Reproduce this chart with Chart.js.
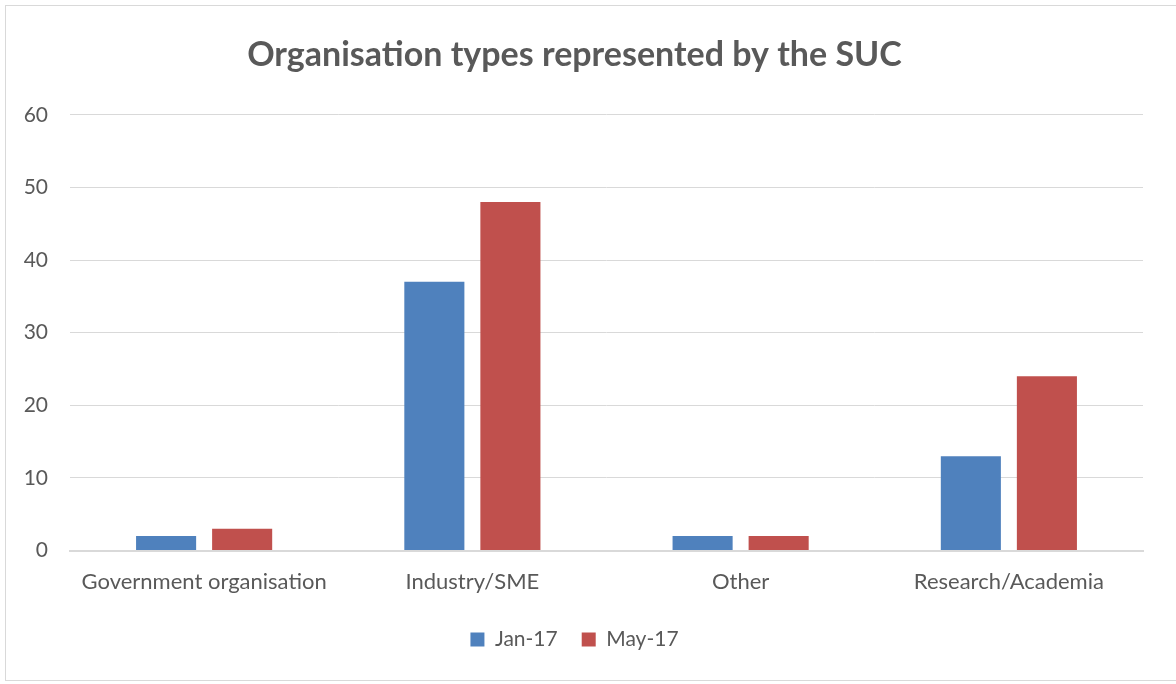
<!DOCTYPE html>
<html lang="en">
<head>
<meta charset="UTF-8">
<title>Organisation types</title>
<script src="https://cdn.jsdelivr.net/npm/chart.js@4.4.0/dist/chart.umd.min.js"></script>
<style>
  body { margin: 0; background: #fff; }
  #box {
    position: absolute; left: 5px; top: 5px;
    width: 1175px; height: 676px;
    border: 1px solid #d9d9d9; box-sizing: border-box;
  }
  #myChart { display: block; }
</style>
</head>
<body>
<div id="box"><canvas id="myChart" width="1173" height="674"></canvas></div>
<script>
const categories = ["Government organisation", "Industry/SME", "Other", "Research/Academia"];
const jan17 = [2, 37, 2, 13];
const may17 = [3, 48, 2, 24];
const seriesNames = ["Jan-17", "May-17"];

const grey = "#595959";
const fontFam = "Lato, 'Open Sans', sans-serif";

new Chart("myChart", {
  type: "bar",
  data: {
    labels: categories,
    datasets: [{
      label: seriesNames[0],
      data: jan17,
      backgroundColor: "#4F81BD",
      barPercentage: 0.79,
      categoryPercentage: 0.567
    }, {
      label: seriesNames[1],
      data: may17,
      backgroundColor: "#C0504D",
      barPercentage: 0.79,
      categoryPercentage: 0.567
    }]
  },
  options: {
    responsive: false,
    animation: false,
    layout: { padding: { left: 0, right: 36, top: 0, bottom: 20 } },
    plugins: {
      title: {
        display: true,
        text: "Organisation types represented by the SUC",
        color: grey,
        font: { family: fontFam, size: 34, weight: "bold" },
        padding: { top: 29, bottom: 39 }
      },
      legend: {
        position: "bottom",
        labels: {
          color: grey,
          font: { family: fontFam, size: 21 },
          boxWidth: 14, boxHeight: 14,
          padding: 24
        }
      },
      tooltip: { enabled: false }
    },
    scales: {
      x: {
        grid: { display: false },
        border: { color: "#d9d9d9", width: 2 },
        ticks: { color: grey, font: { family: fontFam, size: 22 }, padding: 10 }
      },
      y: {
        min: 0, max: 60,
        ticks: { stepSize: 10, color: grey, font: { family: fontFam, size: 21 }, padding: 22 },
        grid: { color: "#d9d9d9", drawTicks: false },
        border: { display: false },
        afterFit: function(scale) { scale.width = 64; }
      }
    }
  }
});
</script>
</body>
</html>
